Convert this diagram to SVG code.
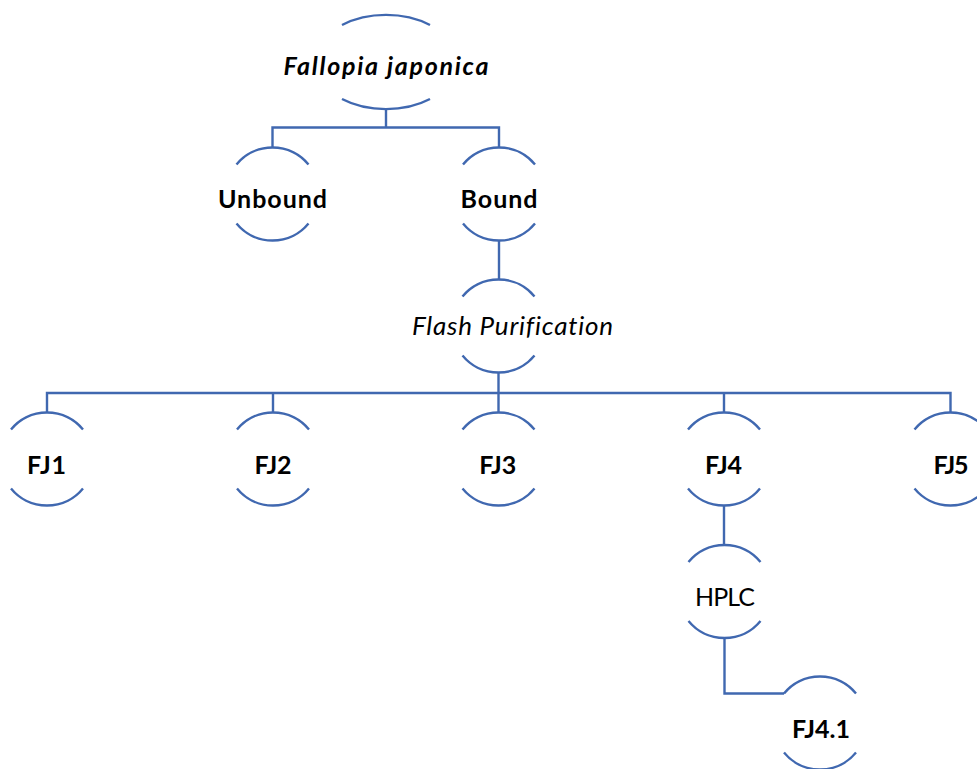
<svg xmlns="http://www.w3.org/2000/svg" width="977" height="769" viewBox="0 0 977 769">
<style>
.arc{fill:none;stroke:#4068B0;stroke-width:2.4}
.con{fill:none;stroke:#4068B0;stroke-width:2.4}
.t{font-family:Lato,"Open Sans","Liberation Sans",sans-serif;fill:#000;text-anchor:middle;font-variant-ligatures:none}
.b{font-weight:bold;font-size:25px}
.r{font-size:25px}
.fl{font-size:26px}
.i{font-style:italic}
</style>
<rect width="977" height="769" fill="#fff"/>
<g id="connectors">
<path class="con" d="M386 109V127.5M272.5 147.5V127.5H499V147.5"/>
<path class="con" d="M499 240.5V279.5"/>
<path class="con" d="M498.5 372.5V393M47 412.5V393H950.5V412.5M273 393V412.5M498.5 393V412.5M724 393V412.5"/>
<path class="con" d="M724 505.5V545"/>
<path class="con" d="M724.5 638V693.5H784"/>
</g>
<g id="n-fallopia">
<path class="arc" d="M342 25A71 47 0 0 1 430 25M342 99A71 47 0 0 0 430 99"/>
<text class="t b i" x="386" y="75" textLength="205">Fallopia japonica</text>
</g>
<g id="n-unbound">
<path class="arc" d="M236.5 164.5A46.5 46.5 0 0 1 308.5 164.5M236.5 223.5A46.5 46.5 0 0 0 308.5 223.5"/>
<text class="t b" x="272.5" y="208" textLength="109">Unbound</text>
</g>
<g id="n-bound">
<path class="arc" d="M463 164.5A46.5 46.5 0 0 1 535 164.5M463 223.5A46.5 46.5 0 0 0 535 223.5"/>
<text class="t b" x="499" y="208" textLength="77">Bound</text>
</g>
<g id="n-flash">
<path class="arc" d="M462.5 296.5A46.5 46.5 0 0 1 534.5 296.5M462.5 355.5A46.5 46.5 0 0 0 534.5 355.5"/>
<text class="t fl i" x="512.5" y="335" textLength="201">Flash Purification</text>
</g>
<g id="n-fj1">
<path class="arc" d="M11 429.5A46.5 46.5 0 0 1 83 429.5M11 488.5A46.5 46.5 0 0 0 83 488.5"/>
<text class="t b" x="46.5" y="473.5" textLength="39">FJ1</text>
</g>
<g id="n-fj2">
<path class="arc" d="M237 429.5A46.5 46.5 0 0 1 309 429.5M237 488.5A46.5 46.5 0 0 0 309 488.5"/>
<text class="t b" x="273" y="473.5" textLength="37">FJ2</text>
</g>
<g id="n-fj3">
<path class="arc" d="M462.5 429.5A46.5 46.5 0 0 1 534.5 429.5M462.5 488.5A46.5 46.5 0 0 0 534.5 488.5"/>
<text class="t b" x="497.7" y="473.5" textLength="37">FJ3</text>
</g>
<g id="n-fj4">
<path class="arc" d="M688 429.5A46.5 46.5 0 0 1 760 429.5M688 488.5A46.5 46.5 0 0 0 760 488.5"/>
<text class="t b" x="723.5" y="473.5" textLength="37">FJ4</text>
</g>
<g id="n-fj5">
<path class="arc" d="M914.5 429.5A46.5 46.5 0 0 1 986.5 429.5M914.5 488.5A46.5 46.5 0 0 0 986.5 488.5"/>
<text class="t b" x="951" y="473.5" textLength="35">FJ5</text>
</g>
<g id="n-hplc">
<path class="arc" d="M688.5 562A46.5 46.5 0 0 1 760.5 562M688.5 621A46.5 46.5 0 0 0 760.5 621"/>
<text class="t r" x="725" y="606" textLength="60">HPLC</text>
</g>
<g id="n-fj41">
<path class="arc" d="M784 693.5A46.5 46.5 0 0 1 856 693.5M784 752.5A46.5 46.5 0 0 0 856 752.5"/>
<text class="t b" x="821" y="738" textLength="58">FJ4.1</text>
</g>
</svg>
